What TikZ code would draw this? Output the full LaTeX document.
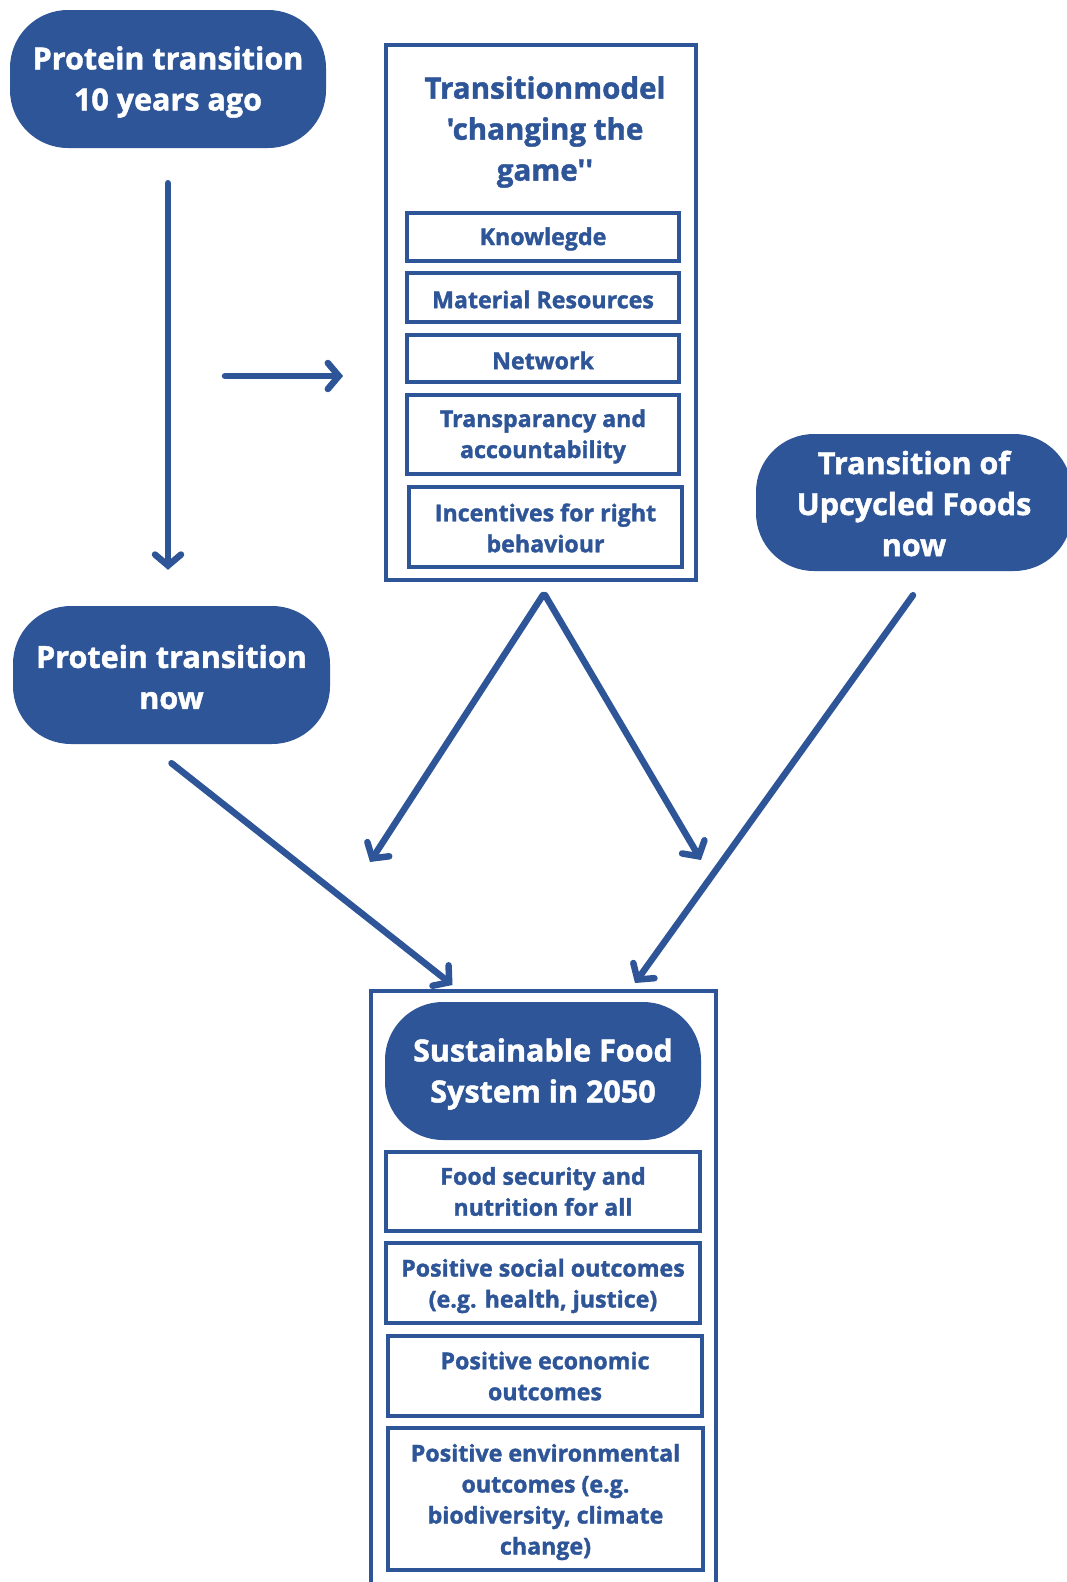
\documentclass[tikz,border=0pt]{standalone}
\usepackage{fontspec}
\newfontfamily\xb{Open Sans Bold}[FakeBold=1.5]
\usetikzlibrary{arrows.meta}
\definecolor{cblue}{RGB}{46,85,151}
\tikzset{
  pill/.style={fill=cblue, draw=none, rounded corners=58pt, inner sep=0pt},
  ptext/.style={text=white, align=center, font=\xb\fontsize{30.5}{41}\selectfont, inner sep=0pt},
  ibox/.style={draw=cblue, line width=4pt, inner sep=0pt},
  itext/.style={text=cblue, align=center, font=\xb\fontsize{23.2}{31}\selectfont, inner sep=0pt},
  obox/.style={draw=cblue, line width=3.8pt, inner sep=0pt},
  arr/.style={draw=cblue, line width=6.5pt, line cap=round,
    -{Straight Barb[length=11pt,width=26pt,line cap=round]}},
}
\begin{document}
\begin{tikzpicture}[x=1pt,y=-1pt]
\clip (0,0) rectangle (1067,1582);
\fill[white] (0,0) rectangle (1067,1582);
% top-left pill
\node[pill, minimum width=316pt, minimum height=138pt] (p1) at (168,79) {};
\node[ptext] (p1t) at ([yshift=-3pt]p1.center) {Protein transition\\10 years ago};
% transition model box
\node[obox, minimum width=310pt, minimum height=535pt] (tm) at (541,312.5) {};
\node[text=cblue, align=center, font=\xb\fontsize{29.5}{41}\selectfont, inner sep=0pt] (tmt) at (545,132) {Transitionmodel\\'changing the\\game''};
\node[ibox, minimum width=272pt, minimum height=48pt] (k) at (543,237) {};
\node[itext] (kt) at ([yshift=-2pt]k.center) {Knowlegde};
\node[ibox, minimum width=272pt, minimum height=49pt] (m) at (543,297.5) {};
\node[itext] (mt) at ([yshift=-2pt]m.center) {Material Resources};
\node[ibox, minimum width=272pt, minimum height=47pt] (n) at (543,358.5) {};
\node[itext] (nt) at ([yshift=-2pt]n.center) {Network};
\node[ibox, minimum width=272pt, minimum height=79pt] (t) at (543,434.5) {};
\node[itext] (tt) at ([yshift=-2pt]t.center) {Transparancy and\\accountability};
\node[ibox, minimum width=273pt, minimum height=80pt] (i) at (545.5,527) {};
\node[itext] (it) at ([yshift=-1pt]i.center) {Incentives for right\\behaviour};
% upcycled pill
\node[pill, minimum width=316pt, minimum height=137pt] (up) at (914,502.5) {};
\node[ptext] (upt) at ([yshift=-1pt]up.center) {Transition of\\Upcycled Foods\\now};
% protein now
\node[pill, minimum width=317pt, minimum height=138pt] (pnow) at (171.5,675) {};
\node[ptext] (pnowt) at ([yshift=-2pt]pnow.center) {Protein transition\\now};
% bottom box
\draw[cblue, line width=3.5pt] (371,1620) -- (371,991) -- (716,991) -- (716,1620);
\coordinate (sfs) at (543.5,991);
\node[pill, minimum width=316pt, minimum height=138pt] (sfp) at (543,1071) {};
\node[ptext] (sfpt) at ([yshift=-3pt]sfp.center) {Sustainable Food\\System in 2050};
\node[ibox, minimum width=314pt, minimum height=79pt] (o1) at (543,1191.5) {};
\node[itext] (o1t) at ([yshift=0pt]o1.center) {Food security and\\nutrition for all};
\node[ibox, minimum width=314pt, minimum height=80pt] (o2) at (543,1283) {};
\node[itext] (o2t) at ([yshift=-3pt]o2.center) {Positive social outcomes\\(e.g. health, justice)};
\node[ibox, minimum width=314pt, minimum height=80pt] (o3) at (545,1376) {};
\node[itext] (o3t) at ([yshift=0pt]o3.center) {Positive economic\\outcomes};
\node[ibox, minimum width=315pt, minimum height=142pt] (o4) at (545.5,1499) {};
\node[itext] (o4t) at ([yshift=-3pt]o4.center) {Positive environmental\\outcomes (e.g.\\biodiversity, climate\\change)};
% arrows
\draw[arr] ([yshift=-35pt]p1.south) -- ([yshift=36pt]pnow.north -| p1.south);
\coordinate (hs) at (225,376);
\draw[arr] (hs) -- ([xshift=-41pt]tm.west |- hs);
\coordinate (apex) at (543,595);
\coordinate (lend) at (370,862);
\coordinate (rend) at (701,860);
\draw[arr] (apex) -- (lend);
\draw[arr] ([xshift=2pt]apex) -- (rend);
\draw[arr] ([yshift=-19pt]pnow.south) -- ([xshift=-91pt,yshift=6pt]sfs);
\draw[arr] ([xshift=-1pt,yshift=-24pt]up.south) -- ([xshift=91.5pt,yshift=8pt]sfs);
\end{tikzpicture}
\end{document}
